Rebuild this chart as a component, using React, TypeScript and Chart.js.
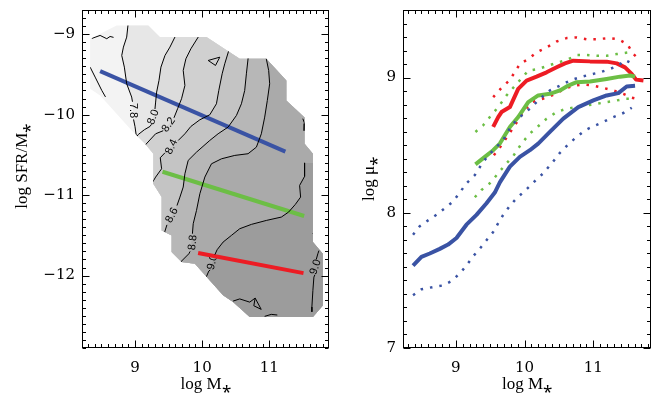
import React, { useEffect, useRef } from 'react';
import { Chart, registerables } from 'chart.js';
Chart.register(...registerables);

type Pt = [number, number] | null;

// ---------------- axis ranges and ticks ----------------
const massRangeL = [8.21, 11.89];
const sfrRange = [-12.9, -8.7];
const massRangeR = [8.232, 11.84];
const muRange = [7, 9.5];
const massTicks = [9, 10, 11];
const sfrTicks = [-12, -11, -10, -9];
const muTicks = [7, 8, 9];

// ---------------- left panel: map region and contours (log M*, log SFR/M*) ----------------
const regionBoundary: number[][] = [
  [8.331, -9.058], [8.727, -8.892], [9.198, -8.892], [9.371, -9.037], [10.065, -9.037], [10.56, -9.306],
  [10.956, -9.306], [11.254, -9.575], [11.254, -9.824], [11.526, -10.035], [11.526, -10.362], [11.65, -10.486],
  [11.65, -11.584], [11.798, -11.729], [11.798, -12.371], [11.65, -12.516], [10.709, -12.516], [10.461, -12.329],
  [10.312, -12.246], [9.892, -11.853], [9.693, -11.832], [9.545, -11.708], [9.545, -11.501], [9.396, -11.439],
  [9.396, -11.025], [9.272, -10.859], [9.272, -10.486], [9.149, -10.362], [8.95, -10.197], [8.48, -9.762],
  [8.331, -9.679],
];

const contour78: Pt[] = [[8.9, -8.85], [8.876, -9.037], [8.827, -9.161], [8.802, -9.265], [8.841, -9.41], [8.876, -9.617], [8.95, -9.782], [8.962, -9.84], null, [8.978, -10.06], [9.0, -10.15], [9.02, -10.27]];
const contour80: Pt[] = [[9.6, -8.98], [9.594, -9.037], [9.52, -9.161], [9.446, -9.265], [9.386, -9.41], [9.357, -9.575], [9.322, -9.72], [9.307, -9.844], [9.297, -9.93], null, [9.245, -10.12], [9.223, -10.147], [9.139, -10.188], [9.05, -10.246], [9.0, -10.3]];
const contour82: Pt[] = [[9.96, -8.98], [9.941, -9.037], [9.832, -9.182], [9.758, -9.306], [9.718, -9.451], [9.743, -9.638], [9.693, -9.803], [9.634, -9.927], [9.58, -10.04], null, [9.42, -10.2], [9.307, -10.238], [9.15, -10.38]];
const contour84: Pt[] = [[10.41, -9.15], [10.397, -9.203], [10.337, -9.368], [10.298, -9.493], [10.248, -9.7], [10.213, -9.865], [10.114, -10.002], [9.966, -10.064], [9.832, -10.147], [9.743, -10.238], [9.644, -10.321], null, [9.446, -10.474], [9.376, -10.536], [9.396, -10.673], [9.307, -10.776], [9.248, -10.859]];
const contour86: Pt[] = [[10.69, -9.25], [10.684, -9.306], [10.659, -9.493], [10.634, -9.7], [10.585, -9.865], [10.511, -10.01], [10.387, -10.155], [10.238, -10.238], [10.114, -10.321], [9.916, -10.466], [9.792, -10.569], [9.743, -10.735], [9.718, -10.9], [9.669, -11.025], [9.625, -11.13], null, [9.475, -11.37], [9.446, -11.447], [9.43, -11.5]];
const contour88: Pt[] = [[10.95, -9.25], [10.956, -9.306], [10.991, -9.451], [11.006, -9.617], [10.971, -9.824], [10.932, -10.031], [10.882, -10.238], [10.808, -10.404], [10.684, -10.486], [10.486, -10.507], [10.288, -10.549], [10.139, -10.611], [10.04, -10.776], [9.966, -10.983], [9.916, -11.19], [9.867, -11.356], [9.855, -11.48], null, [9.82, -11.7], [9.802, -11.729], [9.693, -11.82], [9.67, -11.86]];
const contour90: Pt[] = [[11.526, -10.6], [11.526, -10.768], [11.452, -10.88], [11.467, -11.025], [11.388, -11.116], [11.288, -11.211], [11.18, -11.273], [10.956, -11.315], [10.734, -11.364], [10.56, -11.418], [10.436, -11.501], [10.312, -11.584], [10.223, -11.679], [10.19, -11.74], null, [10.12, -11.93], [10.099, -11.944], [10.065, -12.01], [10.05, -12.05]];
const contour90r: Pt[] = [[11.74, -11.69], [11.724, -11.729], [11.7, -11.8], null, [11.68, -11.99], [11.665, -12.019], [11.65, -12.184], [11.635, -12.391], [11.635, -12.45]];
const contourBits: Pt[][] = [
  [[8.357, -9.053], [8.48, -9.016], [8.579, -9.057], [8.628, -9.029], [8.68, -9.04]],
  [[8.331, -9.41], [8.406, -9.534], [8.505, -9.7], [8.56, -9.78]],
  [[10.09, -9.327], [10.263, -9.286], [10.199, -9.389], [10.09, -9.327]],
  [[11.5, -10.05], [11.526, -10.11], [11.52, -10.2]],
  [[11.724, -11.398], [11.68, -11.44], [11.65, -11.48]],
  [[10.461, -12.317], [10.56, -12.29], [10.709, -12.33], [10.79, -12.28], [10.88, -12.42], [10.77, -12.375], [10.79, -12.28]],
  [[10.931, -12.507], [11.03, -12.482], [11.12, -12.49]],
];
const filledContours: Pt[][] = [contour78, contour80, contour82, contour84, contour86, contour88, contour90];
const bandGreys = ['#f3f3f3', '#e7e7e7', '#dcdcdc', '#d0d0d0', '#c4c4c4', '#b7b7b7', '#aaaaaa', '#9c9c9c'];
const contourLabels = [
  { text: '7.8', x: 8.965, y: -9.95, angle: 90 },
  { text: '8.0', x: 9.272, y: -10.03, angle: -70 },
  { text: '8.2', x: 9.5, y: -10.125, angle: -55 },
  { text: '8.4', x: 9.545, y: -10.4, angle: -65 },
  { text: '8.6', x: 9.55, y: -11.25, angle: -62 },
  { text: '8.8', x: 9.86, y: -11.59, angle: -85 },
  { text: '9.0', x: 10.155, y: -11.835, angle: -75 },
  { text: '9.0', x: 11.69, y: -11.895, angle: -72 },
];

const blueFit: Pt[] = [[8.48, -9.46], [11.24, -10.46]];
const greenFit: Pt[] = [[9.41, -10.71], [11.52, -11.26]];
const redFit: Pt[] = [[9.94, -11.72], [11.51, -11.97]];

// ---------------- right panel: log mu* vs log M* ----------------
const blueMed: Pt[] = [[8.378, 7.61], [8.5, 7.674], [8.621, 7.699], [8.767, 7.733], [8.888, 7.765], [9.01, 7.814], [9.155, 7.912], [9.301, 7.985], [9.447, 8.071], [9.568, 8.15], [9.641, 8.225], [9.787, 8.341], [9.932, 8.414], [10.078, 8.463], [10.199, 8.512], [10.369, 8.598], [10.564, 8.696], [10.782, 8.782], [11.001, 8.831], [11.195, 8.868], [11.365, 8.885], [11.486, 8.934], [11.608, 8.939]];
const blueHi: Pt[] = [[8.378, 7.838], [8.475, 7.9], [8.597, 7.944], [8.718, 7.985], [8.84, 8.034], [8.961, 8.083], [9.058, 8.15], [9.155, 8.218], [9.277, 8.279], [9.398, 8.377], [9.544, 8.463], [9.69, 8.537], [9.811, 8.647], [9.932, 8.708], [10.078, 8.77], [10.224, 8.843], [10.369, 8.905], [10.515, 8.941], [10.661, 8.978], [10.806, 9.003], [10.952, 9.022], [11.098, 9.039], [11.243, 9.064], [11.365, 9.088], [11.462, 9.13], [11.584, 9.1]];
const blueLo: Pt[] = [[8.378, 7.39], [8.5, 7.434], [8.67, 7.451], [8.816, 7.463], [8.937, 7.495], [9.058, 7.551], [9.155, 7.61], [9.253, 7.679], [9.35, 7.735], [9.447, 7.797], [9.544, 7.858], [9.617, 7.924], [9.69, 7.985], [9.787, 8.051], [9.884, 8.108], [10.005, 8.162], [10.127, 8.223], [10.272, 8.292], [10.418, 8.38], [10.515, 8.444], [10.637, 8.507], [10.758, 8.561], [10.879, 8.61], [11.001, 8.64], [11.146, 8.672], [11.268, 8.703], [11.438, 8.738], [11.56, 8.777]];
const greenMed: Pt[] = [[9.286, 8.358], [9.423, 8.414], [9.544, 8.463], [9.641, 8.512], [9.714, 8.574], [9.787, 8.635], [9.908, 8.708], [10.054, 8.819], [10.199, 8.868], [10.369, 8.88], [10.515, 8.905], [10.637, 8.941], [10.758, 8.966], [10.952, 8.971], [11.195, 8.99], [11.389, 9.007], [11.535, 9.015], [11.608, 9.007]];
const greenHi: Pt[] = [[9.286, 8.598], [9.398, 8.647], [9.495, 8.708], [9.617, 8.782], [9.738, 8.868], [9.884, 8.953], [10.054, 9.051], [10.199, 9.064], [10.345, 9.088], [10.491, 9.113], [10.612, 9.13], [10.758, 9.167], [10.903, 9.167], [11.049, 9.162], [11.195, 9.162], [11.341, 9.174], [11.511, 9.186]];
const greenLo: Pt[] = [[9.277, 8.115], [9.374, 8.169], [9.495, 8.218], [9.617, 8.292], [9.714, 8.353], [9.835, 8.419], [9.956, 8.512], [10.078, 8.586], [10.199, 8.64], [10.321, 8.696], [10.467, 8.745], [10.612, 8.77], [10.758, 8.782], [10.903, 8.794], [11.049, 8.806], [11.195, 8.819], [11.341, 8.831], [11.462, 8.843], [11.559, 8.843]];
const redMed: Pt[] = [[9.544, 8.635], [9.617, 8.708], [9.665, 8.745], [9.787, 8.782], [9.908, 8.916], [10.03, 8.978], [10.175, 9.007], [10.321, 9.039], [10.467, 9.076], [10.588, 9.105], [10.709, 9.125], [10.952, 9.12], [11.195, 9.118], [11.341, 9.105], [11.462, 9.076], [11.559, 9.027], [11.623, 8.985], [11.73, 8.978]];
const redHi: Pt[] = [[9.544, 8.855], [9.651, 8.916], [9.787, 8.983], [9.932, 9.1], [10.054, 9.137], [10.175, 9.186], [10.321, 9.223], [10.467, 9.267], [10.612, 9.292], [10.758, 9.297], [10.903, 9.284], [11.049, 9.284], [11.219, 9.292], [11.365, 9.284], [11.496, 9.247], [11.584, 9.174], [11.68, 9.13]];
const redLo: Pt[] = [[9.554, 8.426], [9.665, 8.5], [9.762, 8.574], [9.859, 8.647], [9.981, 8.745], [10.103, 8.819], [10.224, 8.838], [10.345, 8.855], [10.467, 8.885], [10.588, 8.917], [10.709, 8.941], [10.855, 8.949], [11.001, 8.941], [11.146, 8.924], [11.292, 8.905], [11.438, 8.88], [11.559, 8.851], [11.632, 8.843]];

// ---------------- styling ----------------
const BLUE = '#3a53a4';
const GREEN = '#6cbe45';
const RED = '#ed1c24';
const TICK_FONT = { family: "'DejaVu Serif', serif", size: 15 };
const TITLE_FONT = { family: "'Liberation Serif', 'Times New Roman', serif", size: 17, lineHeight: 1 };

const fmt = (v: number) => (v < 0 ? '\u2212' + Math.abs(v) : String(v));

function toData(pts: Pt[]) {
  return pts.map((p, i) => {
    if (p) return { x: p[0], y: p[1] };
    const prev = pts[i - 1] as number[];
    return { x: prev[0], y: null };
  });
}

function lineDs(pts: Pt[], color: string, width: number, extra: any = {}) {
  return {
    data: toData(pts),
    showLine: true,
    borderColor: color,
    backgroundColor: color,
    borderWidth: width,
    pointRadius: 0,
    pointHoverRadius: 0,
    fill: false,
    tension: 0,
    spanGaps: false,
    borderCapStyle: 'butt',
    borderJoinStyle: 'round',
    ...extra,
  };
}

const frameTicks = {
  id: 'frameTicks',
  afterDraw(chart: any) {
    const { ctx, chartArea: a } = chart;
    const xs = chart.scales.x;
    const ys = chart.scales.y;
    ctx.save();
    ctx.strokeStyle = '#000';
    ctx.lineWidth = 1;
    const L = Math.round(a.left) + 0.5;
    const R = Math.round(a.right) - 0.5;
    const T = Math.round(a.top) + 0.5;
    const B = Math.round(a.bottom) - 0.5;
    ctx.strokeRect(L, T, R - L, B - T);
    ctx.beginPath();
    for (let i = Math.ceil(xs.min * 10 - 1e-6); i <= xs.max * 10 + 1e-6; i++) {
      const len = i % 10 === 0 ? 7 : 3.5;
      const p = Math.round(xs.getPixelForValue(i / 10)) + 0.5;
      ctx.moveTo(p, B); ctx.lineTo(p, B - len);
      ctx.moveTo(p, T); ctx.lineTo(p, T + len);
    }
    for (let i = Math.ceil(ys.min * 10 - 1e-6); i <= ys.max * 10 + 1e-6; i++) {
      const len = i % 10 === 0 ? 7 : 3.5;
      const p = Math.round(ys.getPixelForValue(i / 10)) + 0.5;
      ctx.moveTo(L, p); ctx.lineTo(L + len, p);
      ctx.moveTo(R, p); ctx.lineTo(R - len, p);
    }
    ctx.stroke();
    ctx.restore();
  },
};

function regionPath(chart: any) {
  const { ctx, scales: { x, y } } = chart;
  ctx.beginPath();
  regionBoundary.forEach((p, i) => {
    const u = x.getPixelForValue(p[0]);
    const v = y.getPixelForValue(p[1]);
    if (i) ctx.lineTo(u, v); else ctx.moveTo(u, v);
  });
  ctx.closePath();
}

const mapPlugin = {
  id: 'mapPlugin',
  beforeDatasetsDraw(chart: any) {
    const { ctx, chartArea: a, scales: { x, y } } = chart;
    ctx.save();
    ctx.beginPath();
    ctx.rect(a.left, a.top, a.right - a.left, a.bottom - a.top);
    ctx.clip();
    regionPath(chart);
    ctx.fillStyle = bandGreys[0];
    ctx.fill();
    ctx.clip();
    filledContours.forEach((c, k) => {
      const pts = c.filter(Boolean) as number[][];
      const f = pts[0];
      const l = pts[pts.length - 1];
      const poly = [...pts, [l[0], -30], [30, -30], [30, f[1]]];
      ctx.beginPath();
      poly.forEach((p, i) => {
        const u = x.getPixelForValue(p[0]);
        const v = y.getPixelForValue(p[1]);
        if (i) ctx.lineTo(u, v); else ctx.moveTo(u, v);
      });
      ctx.closePath();
      ctx.fillStyle = bandGreys[k + 1];
      ctx.fill();
    });
    ctx.restore();
    ctx.save();
    ctx.fillStyle = '#000';
    ctx.font = "11px 'Liberation Sans', Arial, sans-serif";
    ctx.textAlign = 'center';
    ctx.textBaseline = 'middle';
    contourLabels.forEach((lb) => {
      ctx.save();
      ctx.translate(x.getPixelForValue(lb.x), y.getPixelForValue(lb.y));
      ctx.rotate((lb.angle * Math.PI) / 180);
      ctx.fillText(lb.text, 0, 0);
      ctx.restore();
    });
    ctx.restore();
  },
  beforeDatasetDraw(chart: any, args: any) {
    if (chart.data.datasets[args.index].clipRegion) {
      chart.ctx.save();
      regionPath(chart);
      chart.ctx.clip();
    }
  },
  afterDatasetDraw(chart: any, args: any) {
    if (chart.data.datasets[args.index].clipRegion) chart.ctx.restore();
  },
};

function makeScales(xr: number[], yr: number[], yTicks: number[], yWidth: number, yTitle: string, yTitlePad: number) {
  return {
    x: {
      type: 'linear',
      min: xr[0],
      max: xr[1],
      grid: { display: false, drawTicks: false },
      border: { display: false },
      afterBuildTicks: (s: any) => { s.ticks = massTicks.map((v) => ({ value: v })); },
      ticks: { padding: 11, color: '#000', font: TICK_FONT, maxRotation: 0, autoSkip: false, callback: (v: any) => fmt(Number(v)) },
      title: { display: true, text: 'log M\u204E', color: '#000', font: TITLE_FONT, padding: { top: 0, bottom: 2 } },
      afterFit: (s: any) => { s.height = 47; s.paddingLeft = 0; s.paddingRight = 0; },
    },
    y: {
      type: 'linear',
      min: yr[0],
      max: yr[1],
      grid: { display: false, drawTicks: false },
      border: { display: false },
      afterBuildTicks: (s: any) => { s.ticks = yTicks.map((v) => ({ value: v })); },
      ticks: { padding: 7, color: '#000', font: TICK_FONT, autoSkip: false, callback: (v: any) => fmt(Number(v)) },
      title: { display: true, text: yTitle, color: '#000', font: TITLE_FONT, padding: { top: yTitlePad, bottom: 0 } },
      afterFit: (s: any) => { s.width = yWidth; s.paddingTop = 0; s.paddingBottom = 0; },
    },
  };
}

function baseOptions(scales: any, padRight: number) {
  return {
    responsive: false,
    maintainAspectRatio: false,
    animation: false,
    events: [],
    layout: { padding: { top: 10, right: padRight, left: 0, bottom: 0 } },
    plugins: { legend: { display: false }, tooltip: { enabled: false } },
    scales,
  };
}

function leftConfig(): any {
  const contourSets = [contour78, contour80, contour82, contour84, contour86, contour88, contour90, contour90r, ...contourBits]
    .map((c) => lineDs(c, '#000', 1, { clipRegion: true }));
  return {
    type: 'scatter',
    data: {
      datasets: [
        ...contourSets,
        lineDs(blueFit, BLUE, 4),
        lineDs(greenFit, GREEN, 4),
        lineDs(redFit, RED, 4),
      ],
    },
    options: baseOptions(makeScales(massRangeL, sfrRange, sfrTicks, 82, '\u2003\u2002log SFR/M\u204E', 14), 6),
    plugins: [mapPlugin, frameTicks],
  };
}

function rightConfig(): any {
  const dot = { borderDash: [2.5, 7], borderWidth: 2.5 };
  return {
    type: 'scatter',
    data: {
      datasets: [
        lineDs(blueHi, BLUE, 2.5, dot),
        lineDs(blueLo, BLUE, 2.5, dot),
        lineDs(blueMed, BLUE, 4),
        lineDs(greenHi, GREEN, 2.5, dot),
        lineDs(greenLo, GREEN, 2.5, dot),
        lineDs(greenMed, GREEN, 4),
        lineDs(redHi, RED, 2.5, dot),
        lineDs(redLo, RED, 2.5, dot),
        lineDs(redMed, RED, 4),
      ],
    },
    options: baseOptions(makeScales(massRangeR, muRange, muTicks, 68, 'log \u03BC\u204E', 26), 14),
    plugins: [frameTicks],
  };
}

export default function App() {
  const leftRef = useRef<HTMLCanvasElement>(null);
  const rightRef = useRef<HTMLCanvasElement>(null);
  useEffect(() => {
    const c1 = new Chart(leftRef.current as HTMLCanvasElement, leftConfig());
    const c2 = new Chart(rightRef.current as HTMLCanvasElement, rightConfig());
    return () => { c1.destroy(); c2.destroy(); };
  }, []);
  return (
    <div style={{ position: 'fixed', left: 0, top: 0, width: 665, height: 395, background: '#fff' }}>
      <canvas ref={leftRef} width={335} height={395} style={{ position: 'absolute', left: 0, top: 0, width: 335, height: 395 }} />
      <canvas ref={rightRef} width={330} height={395} style={{ position: 'absolute', left: 335, top: 0, width: 330, height: 395 }} />
    </div>
  );
}
